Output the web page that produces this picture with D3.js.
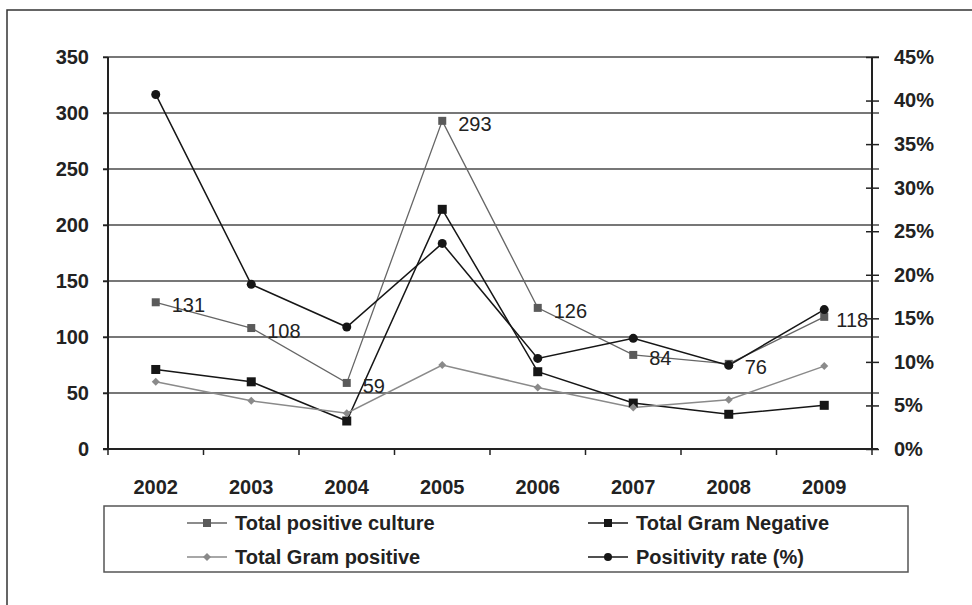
<!DOCTYPE html>
<html>
<head>
<meta charset="utf-8">
<script src="https://cdn.jsdelivr.net/npm/d3@7"></script>
<style>
html,body{margin:0;padding:0;background:#fff;}
svg{display:block;font-family:"Liberation Sans",Arial,sans-serif;}
</style>
</head>
<body>
<svg id="chart" width="972" height="605"></svg>
<script>
const years = ["2002","2003","2004","2005","2006","2007","2008","2009"];
const totalPositiveCulture = [131,108,59,293,126,84,76,118];
const totalGramNegative = [71,60,25,214,69,41,31,39];
const totalGramPositive = [60,43,32,75,55,37,44,74];
const positivityRate = [0.407,0.189,0.140,0.236,0.104,0.127,0.096,0.160];
const leftTicks = [0,50,100,150,200,250,300,350];
const rightTicks = [0,0.05,0.10,0.15,0.20,0.25,0.30,0.35,0.40,0.45];
const legendLabels = ["Total positive culture","Total Gram Negative","Total Gram positive","Positivity rate (%)"];

const svg = d3.select("#chart");
const L = 108, R = 872, T = 57, B = 449;

// outer frame
svg.append("rect").attr("x",7).attr("y",10).attr("width",1200).attr("height",1200)
  .attr("fill","none").attr("stroke","#333").attr("stroke-width",1.5);

const x = d3.scaleBand().domain(years).range([L,R]).padding(0);
const cx = d => x(d) + x.bandwidth()/2;
const yL = d3.scaleLinear().domain([0,350]).range([B,T]);
const yR = d3.scaleLinear().domain([0,0.45]).range([B,T]);

// gridlines
svg.append("g").selectAll("line").data(leftTicks.filter(d=>d>0)).join("line")
  .attr("x1",L-5).attr("x2",R+7).attr("y1",d=>yL(d)).attr("y2",d=>yL(d))
  .attr("stroke","#4a4a4a").attr("stroke-width",1.6);

// left axis
const gl = svg.append("g").attr("transform",`translate(${L},0)`)
  .call(d3.axisLeft(yL).tickValues(leftTicks).tickSize(5).tickPadding(14));
gl.select(".domain").attr("stroke","#222").attr("stroke-width",2).attr("d",`M-0,${B}V${T}`);
gl.selectAll(".tick line").attr("stroke","#222").attr("stroke-width",1.5);
gl.selectAll(".tick text").attr("font-size",20).attr("font-weight","bold").attr("fill","#222")
  .attr("font-family","'Liberation Sans',Arial,sans-serif");

// right axis
const gr = svg.append("g").attr("transform",`translate(${R},0)`)
  .call(d3.axisRight(yR).tickValues(rightTicks).tickSize(7).tickPadding(15).tickFormat(d3.format(".0%")));
gr.select(".domain").attr("stroke","#222").attr("stroke-width",2).attr("d",`M0,${B}V${T}`);
gr.selectAll(".tick line").attr("stroke","#222").attr("stroke-width",1.5).attr("x1",-6);
gr.selectAll(".tick text").attr("font-size",20).attr("font-weight","bold").attr("fill","#222")
  .attr("font-family","'Liberation Sans',Arial,sans-serif");

// bottom axis
svg.append("line").attr("x1",L-5).attr("x2",R+6).attr("y1",B).attr("y2",B)
  .attr("stroke","#222").attr("stroke-width",2);
const bounds = years.map(d=>x(d)).concat([R]);
svg.append("g").selectAll("line").data(bounds).join("line")
  .attr("x1",d=>d).attr("x2",d=>d).attr("y1",B).attr("y2",B+6)
  .attr("stroke","#222").attr("stroke-width",1.5);
svg.append("g").selectAll("text").data(years).join("text")
  .attr("x",d=>cx(d)).attr("y",B+45).attr("text-anchor","middle")
  .attr("font-size",20).attr("font-weight","bold").attr("fill","#222").text(d=>d);

// series
const series = [
  {name:legendLabels[0], vals:totalPositiveCulture, scale:yL, color:"#5a5a5a", line:"#666", w:1.3, shape:"square", size:8, labels:true},
  {name:legendLabels[1], vals:totalGramNegative, scale:yL, color:"#161616", line:"#161616", w:1.5, shape:"square", size:9},
  {name:legendLabels[2], vals:totalGramPositive, scale:yL, color:"#8a8a8a", line:"#8a8a8a", w:1.5, shape:"diamond", size:7},
  {name:legendLabels[3], vals:positivityRate, scale:yR, color:"#161616", line:"#161616", w:1.5, shape:"circle", size:9}
];

function drawMarker(g, shape, color, size){
  if(shape==="square"){
    g.append("rect").attr("x",-size/2).attr("y",-size/2).attr("width",size).attr("height",size).attr("fill",color);
  } else if(shape==="diamond"){
    const s=size/2+0.5;
    g.append("path").attr("d",`M0,${-s}L${s},0L0,${s}L${-s},0Z`).attr("fill",color);
  } else {
    g.append("circle").attr("r",size/2).attr("fill",color);
  }
}

series.forEach(s=>{
  const pts = years.map((yr,i)=>[cx(yr), s.scale(s.vals[i])]);
  svg.append("path").attr("d",d3.line()(pts)).attr("fill","none")
    .attr("stroke",s.line).attr("stroke-width",s.w);
});
series.forEach(s=>{
  years.forEach((yr,i)=>{
    const g = svg.append("g").attr("transform",`translate(${cx(yr)},${s.scale(s.vals[i])})`);
    drawMarker(g, s.shape, s.color, s.size);
  });
});
// data labels
const lab = series[0];
svg.append("g").selectAll("text").data(years).join("text")
  .attr("x",(d,i)=> cx(d) + (i===7 ? 12 : 16))
  .attr("y",(d,i)=> yL(totalPositiveCulture[i]) + 10)
  .attr("font-size",20).attr("fill","#222")
  .text((d,i)=>totalPositiveCulture[i]);

// legend
svg.append("rect").attr("x",104).attr("y",506).attr("width",804).attr("height",66)
  .attr("fill","none").attr("stroke","#555").attr("stroke-width",1.5);
const legPos = [[207,523],[608,523],[207,557],[608,557]];
series.forEach((s,i)=>{
  const g = svg.append("g").attr("transform",`translate(${legPos[i][0]},${legPos[i][1]})`);
  g.append("line").attr("x1",-20).attr("x2",20).attr("stroke",s.line).attr("stroke-width",1.5);
  drawMarker(g, s.shape, s.color, s.shape==="circle"?8:(s.shape==="diamond"?7:8));
  g.append("text").attr("x",28).attr("y",7).attr("font-size",20).attr("font-weight","bold")
    .attr("fill","#222").text(s.name);
});
</script>
</body>
</html>
